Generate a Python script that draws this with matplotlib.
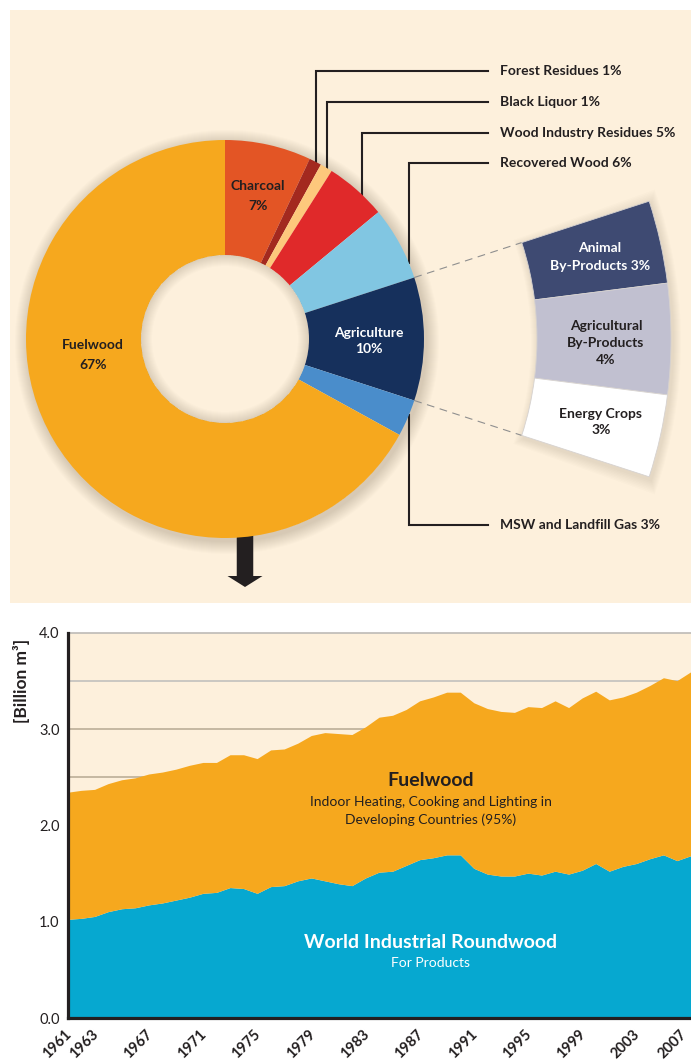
import numpy as np
import matplotlib
matplotlib.use("Agg")
import matplotlib.pyplot as plt
import matplotlib.transforms as mtransforms
from matplotlib.patches import Wedge, Rectangle, FancyArrow

# --- datos del donut (porcentaje de la oferta de bioenergia) ---
sources = ['Charcoal', 'Forest Residues', 'Black Liquor', 'Wood Industry Residues',
           'Recovered Wood', 'Agriculture', 'MSW and Landfill Gas', 'Fuelwood']
shares = [7, 1, 1, 5, 6, 10, 3, 67]
source_colors = ['#e35525', '#a3291f', '#fdc87c', '#e0292a',
                 '#81c6e2', '#16305c', '#4a8dcb', '#f6a81e']

agri_parts = ['Animal\nBy-Products 3%', 'Agricultural\nBy-Products\n4%', 'Energy Crops\n3%']
agri_shares = [3, 4, 3]
agri_colors = ['#3e4a72', '#c1c0d0', '#ffffff']

# --- datos de la serie temporal (miles de millones de m3) ---
years = np.arange(1961, 2008)
industrial = [1.02, 1.03, 1.05, 1.10, 1.13, 1.14, 1.17, 1.19, 1.22, 1.25,
              1.29, 1.30, 1.35, 1.34, 1.29, 1.36, 1.37, 1.42, 1.45, 1.42,
              1.39, 1.37, 1.45, 1.51, 1.52, 1.58, 1.64, 1.66, 1.69, 1.69,
              1.55, 1.49, 1.47, 1.47, 1.50, 1.48, 1.52, 1.49, 1.53, 1.60,
              1.52, 1.57, 1.60, 1.65, 1.69, 1.63, 1.68]
fuelwood = [1.32, 1.33, 1.32, 1.33, 1.34, 1.35, 1.36, 1.36, 1.36, 1.37,
            1.36, 1.35, 1.38, 1.39, 1.40, 1.42, 1.42, 1.43, 1.48, 1.54,
            1.56, 1.57, 1.57, 1.61, 1.62, 1.62, 1.65, 1.67, 1.69, 1.69,
            1.72, 1.72, 1.71, 1.70, 1.73, 1.74, 1.77, 1.73, 1.79, 1.79,
            1.78, 1.76, 1.78, 1.80, 1.84, 1.87, 1.91]
year_ticks = [1961, 1963, 1967, 1971, 1975, 1979, 1983, 1987, 1991, 1995, 1999, 2003, 2007]
y_ticks = [0.0, 1.0, 2.0, 3.0, 4.0]

PEACH = '#fdf0dc'
DARK = '#231f20'
FONT = ['Lato', 'DejaVu Sans']

W, H = 691, 1060
fig = plt.figure(figsize=(W / 100, H / 100), dpi=100)
fig.patch.set_facecolor('white')

# capa superior en coordenadas de pixel (y hacia arriba)
ax0 = fig.add_axes([0, 0, 1, 1])
def py(p):
    return H - p

ax0.add_patch(Rectangle((10, py(603)), W, 593, color=PEACH, lw=0, zorder=0))

cx, cy = 225, py(339)
R_out, R_in = 199, 84
R2_out, R2_in = 446, 312

# sombra suave alrededor del donut
for d in range(1, 14):
    ax0.add_patch(Wedge((cx + 2, cy - 3), R_out + d, 0, 360, width=d + 4,
                        facecolor='#5a4630', alpha=0.016, lw=0, zorder=1))
for d in range(1, 12):
    ax0.add_patch(Wedge((cx, cy), R_in, 0, 360, width=d,
                        facecolor='#5a4630', alpha=0.016, lw=0, zorder=4))

wedges, _ = ax0.pie(shares, colors=source_colors, startangle=90, counterclock=False,
                    radius=R_out, center=(cx, cy),
                    wedgeprops=dict(width=R_out - R_in, linewidth=0))
for w in wedges:
    w.set_zorder(3)

# angulos de la porcion Agriculture
cum = np.cumsum([0] + shares)
a_start = 90 - 3.6 * cum[5]
a_end = 90 - 3.6 * cum[6]

# sombra de la porcion ampliada
for d in range(1, 9):
    ax0.add_patch(Wedge((cx + 2, cy - 3), R2_out + d, a_end - d * 0.2, a_start + d * 0.2,
                        width=R2_out - R2_in + 2 * d, facecolor='#5a4630', alpha=0.014,
                        lw=0, zorder=1))

sub, _ = ax0.pie([s / 100 for s in agri_shares], colors=agri_colors, startangle=a_start,
                 counterclock=False, normalize=False, radius=R2_out, center=(cx, cy),
                 wedgeprops=dict(width=R2_out - R2_in, linewidth=0.6, edgecolor='#d6d2d0'))
for w in sub:
    w.set_zorder(3)

# lineas discontinuas entre Agriculture y su desglose
for a in (a_start, a_end):
    t = np.radians(a)
    ax0.plot([cx + R_out * np.cos(t), cx + R2_in * np.cos(t)],
             [cy + R_out * np.sin(t), cy + R2_in * np.sin(t)],
             color='#8f8f8f', lw=0.8, dashes=(7, 5), zorder=2)

# lineas guia y etiquetas
leaders = [(1, 316, 71, 1), (2, 327, 102, 1), (3, 362, 133, 1), (4, 409, 163, 1), (6, 409, 525, -1)]
for idx, lx, ly, side in leaders:
    y_edge = cy + side * np.sqrt(R_out ** 2 - (lx - cx) ** 2)
    ax0.plot([lx, lx, 488], [y_edge, py(ly), py(ly)], color=DARK, lw=1.5,
             solid_joinstyle='miter', zorder=2)
    ax0.text(500, py(ly), f'{sources[idx]} {shares[idx]}%', family=FONT,
             fontweight='bold', fontsize=10, color=DARK, va='center', ha='left', zorder=5)

lbl = dict(family=FONT, fontweight='bold', fontsize=10, ha='center', va='center', zorder=5)
ax0.text(258, py(196), f'{sources[0]}\n{shares[0]}%', color=DARK, linespacing=1.75, **lbl)
ax0.text(93, py(355), f'{sources[7]}\n{shares[7]}%', color=DARK, linespacing=1.8, **lbl)
ax0.text(369, py(341), f'{sources[5]}\n{shares[5]}%', color='white', linespacing=1.45, **lbl)
ax0.text(600, py(257), agri_parts[0], color='white', linespacing=1.5, **lbl)
ax0.text(606, py(343), agri_parts[1], color=DARK, linespacing=1.5, **lbl)
ax0.text(601, py(422), agri_parts[2], color=DARK, linespacing=1.5, **lbl)

# flecha hacia el grafico inferior
ax0.add_patch(FancyArrow(245, py(520), 0, -(587 - 520), width=16.5, head_width=35,
                         head_length=11, length_includes_head=True, color=DARK, lw=0, zorder=2))

ax0.set_xlim(0, W)
ax0.set_ylim(0, H)
ax0.set_aspect('auto')
ax0.axis('off')

# --- grafico de areas ---
ax = fig.add_axes([68 / W, 42 / H, 623 / W, 385 / H])
ax.set_zorder(2)
ax.set_facecolor(PEACH)
ax.stackplot(years, industrial, fuelwood, colors=['#06a8d0', '#f6a81e'], lw=0, zorder=2)
ax.set_xlim(1961, 2007)
ax.set_ylim(0, 4)
ax.axhline(3.5, color='#c2c0bd', lw=1.2, zorder=1)
for g in (2.5, 3.0):
    ax.axhline(g, color='#bcae98', lw=1.2, zorder=1)

ax.spines['right'].set_visible(False)
ax.spines['top'].set_color('#bdbab6')
ax.spines['top'].set_linewidth(1.2)
for s in ('left', 'bottom'):
    ax.spines[s].set_color(DARK)
    ax.spines[s].set_linewidth(2.3)
    ax.spines[s].set_zorder(5)

ax.set_yticks(y_ticks)
ax.set_yticklabels([f'{v:.1f}' for v in y_ticks], family=FONT, fontsize=10.5, color=DARK)
ax.set_xticks(year_ticks)
ax.set_xticklabels([])
ax.tick_params(axis='both', length=0)
ax.tick_params(axis='y', pad=6)

# etiquetas de anio giradas (la ultima se corre un poco para no cortarse)
for i, yr in enumerate(year_ticks):
    dx = -11 if i == len(year_ticks) - 1 else -4
    tr = ax.get_xaxis_transform() + mtransforms.ScaledTranslation(dx / 100, -9 / 100,
                                                                   fig.dpi_scale_trans)
    ax.text(yr, 0, str(yr), transform=tr, family=FONT, fontweight='bold', fontsize=10.5,
            color=DARK, rotation=45, ha='right', va='top', rotation_mode='anchor',
            clip_on=False)

fig.text(21 / W, 1 - 681 / H, '[Billion m³]', family=FONT, fontweight='bold', fontsize=12.5,
         color=DARK, rotation=90, ha='center', va='center')

ax.text(0.582, 0.618, 'Fuelwood', transform=ax.transAxes, family=FONT, fontweight='bold',
        fontsize=14, color=DARK, ha='center', va='center', zorder=6)
ax.text(0.582, 0.538, 'Indoor Heating, Cooking and Lighting in\nDeveloping Countries (95%)',
        transform=ax.transAxes, family=FONT, fontsize=10, color=DARK, ha='center',
        va='center', linespacing=1.45, zorder=6)
ax.text(0.582, 0.196, 'World Industrial Roundwood', transform=ax.transAxes, family=FONT,
        fontweight='bold', fontsize=14, color='white', ha='center', va='center', zorder=6)
ax.text(0.582, 0.142, 'For Products', transform=ax.transAxes, family=FONT, fontsize=10,
        color='white', ha='center', va='center', zorder=6)

fig.savefig('out.png', dpi=100, facecolor='white')
